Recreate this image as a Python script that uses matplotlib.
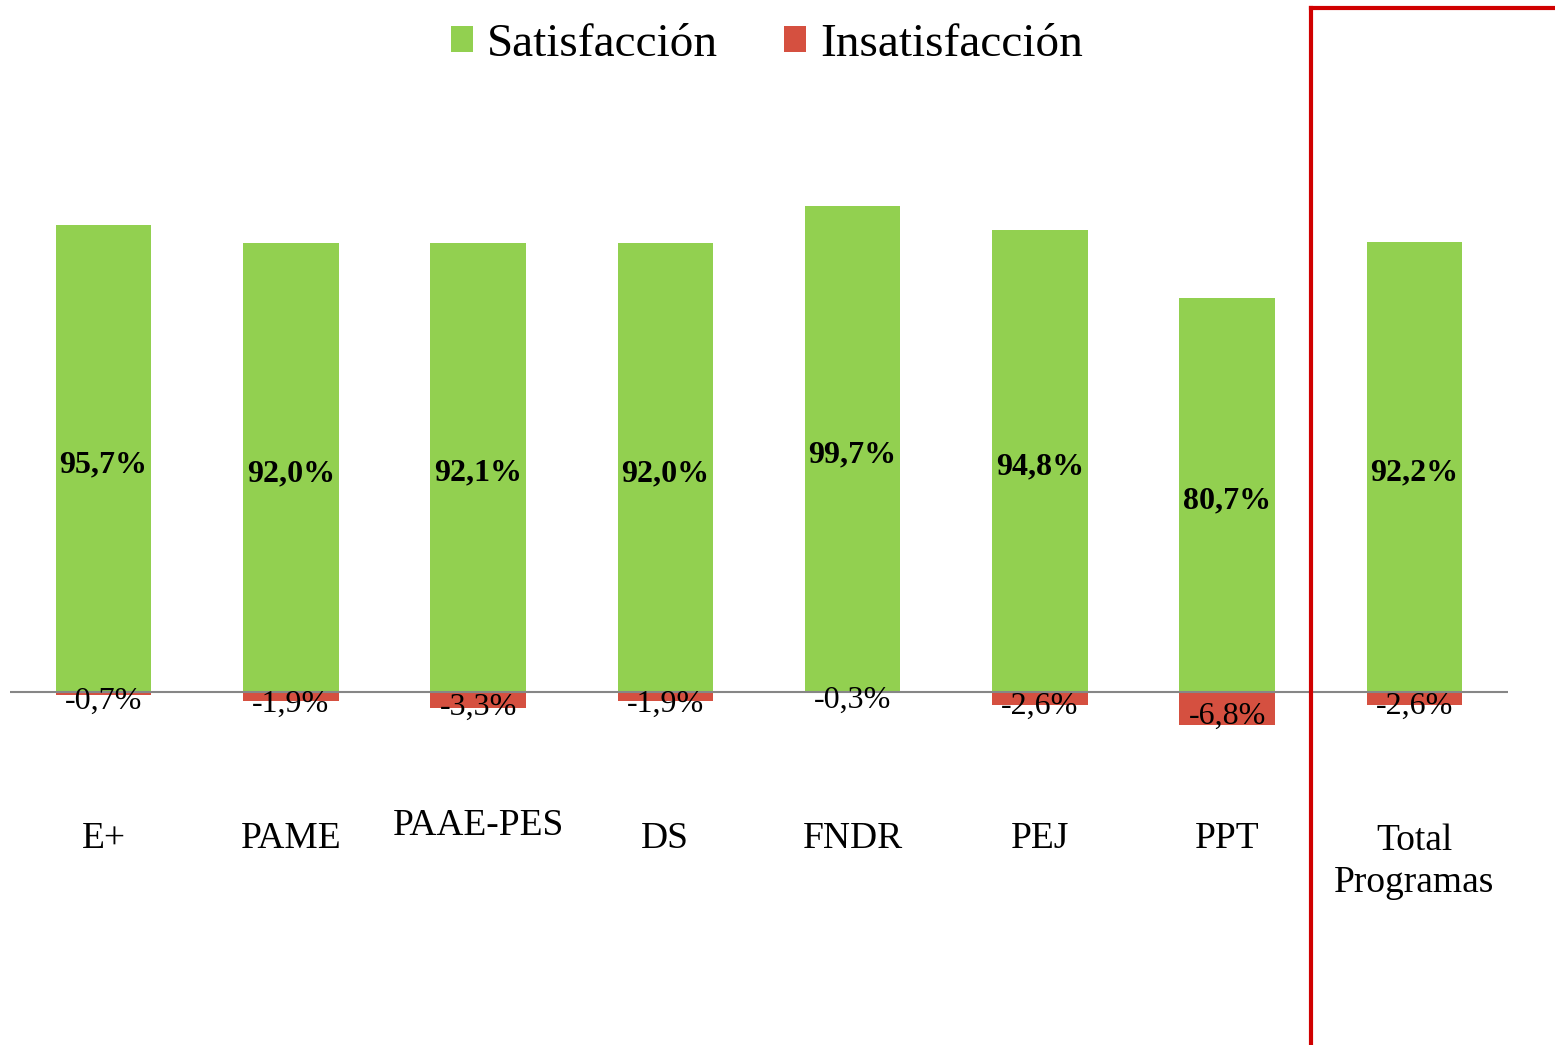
import matplotlib
matplotlib.use("Agg")
import matplotlib.pyplot as plt
from matplotlib.lines import Line2D

plt.rcParams['font.family'] = ['Liberation Serif', 'DejaVu Serif']

programas = ["E+", "PAME", "PAAE-PES", "DS", "FNDR", "PEJ", "PPT", "Total\nProgramas"]
satisfaccion = [95.7, 92.0, 92.1, 92.0, 99.7, 94.8, 80.7, 92.2]
insatisfaccion = [-0.7, -1.9, -3.3, -1.9, -0.3, -2.6, -6.8, -2.6]

verde = "#92D050"
rojo = "#D55040"

fig = plt.figure(figsize=(15.55, 10.45), dpi=100)
ax = fig.add_axes([10 / 1555, 1 - 765 / 1045, 1498 / 1555, 585 / 1045])

x = range(len(programas))
ax.bar(x, satisfaccion, width=0.51, color=verde, label="Satisfacción", zorder=2)
ax.bar(x, insatisfaccion, width=0.51, color=rojo, label="Insatisfacción", zorder=2)
ax.axhline(0, color="#868686", lw=1.5, zorder=3)

ax.set_xlim(-0.5, len(programas) - 0.5)
ax.set_ylim(-15, 105)
ax.axis("off")

def fmt(v):
    return f"{v:.1f}%".replace(".", ",")

for i, (s, n) in enumerate(zip(satisfaccion, insatisfaccion)):
    ax.text(i, s / 2 - 1.2, fmt(s), ha="center", va="center",
            fontsize=23, fontweight="bold", zorder=4)
    ax.text(i, n / 2 - 1.6, fmt(n), ha="center", va="center",
            fontsize=23, zorder=4)
    # etiqueta de categoria (PAAE-PES queda algo mas arriba en el original)
    if programas[i] == "PAAE-PES":
        y_lab = -27.5
    elif "\n" in programas[i]:
        y_lab = -34.8
    else:
        y_lab = -30.1
    ax.text(i, y_lab, programas[i], ha="center", va="center",
            fontsize=27, linespacing=1.3, clip_on=False)

leg = fig.legend(loc="center", bbox_to_anchor=(767 / 1555, 1 - 45 / 1045), ncol=2,
                 frameon=False, fontsize=34, handlelength=0.47, handleheight=0.47,
                 handletextpad=0.3, columnspacing=1.4)

# marco rojo alrededor del total
fig.add_artist(Line2D([1311 / 1555, 1311 / 1555], [0, 1 - 8 / 1045], color="#D00000", lw=3))
fig.add_artist(Line2D([1311 / 1555, 1], [1 - 8 / 1045, 1 - 8 / 1045], color="#D00000", lw=3))

fig.savefig("out.png", dpi=100, facecolor="white")
